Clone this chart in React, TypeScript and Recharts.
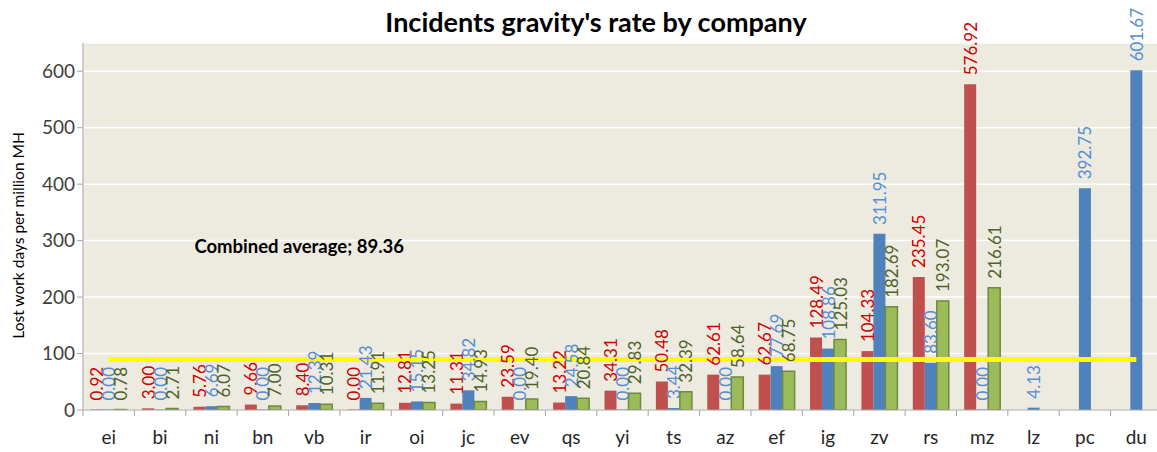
import { BarChart, Bar, XAxis, YAxis, CartesianGrid, LabelList, ReferenceLine, ReferenceDot } from "recharts";

const companies = ["ei", "bi", "ni", "bn", "vb", "ir", "oi", "jc", "ev", "qs", "yi", "ts", "az", "ef", "ig", "zv", "rs", "mz", "lz", "pc", "du"];

const redValues = [0.92, 3.0, 5.76, 9.66, 8.4, 0.0, 12.81, 11.31, 23.59, 13.22, 34.31, 50.48, 62.61, 62.67, 128.49, 104.33, 235.45, 576.92, null, null, null];
const blueValues = [0.0, 0.0, 6.69, 0.0, 12.39, 21.43, 15.15, 34.82, 0.0, 24.58, 0.0, 3.44, 0.0, 77.69, 108.86, 311.95, 83.6, 0.0, 4.13, 392.75, 601.67];
const greenValues = [0.78, 2.71, 6.07, 7.0, 10.31, 11.91, 13.25, 14.93, 19.4, 20.84, 29.83, 32.39, 58.64, 68.75, 125.03, 182.69, 193.07, 216.61, null, null, null];

const yTicks = [0, 100, 200, 300, 400, 500, 600];
const combinedAverage = 89.36;

const data = companies.map((name, i) => ({
  name,
  red: redValues[i],
  blue: blueValues[i],
  green: greenValues[i],
}));

const FONT = "Lato, 'Open Sans', sans-serif";
const CHART_W = 1162;
const PLOT_LEFT = 83;
const BAND = (CHART_W - PLOT_LEFT) / companies.length;

// zero values still need their "0.00" label, so give them a hairline bar
const zeroMin = (value: any) => (value === 0 ? 0.5 : 0);

function makeLabel(color: string) {
  return (props: any) => {
    const { x, y, width, height, value } = props;
    if (value === null || value === undefined) return null;
    const cx = Number(x) + Number(width) / 2;
    const top = Math.min(Number(y), Number(y) + Number(height));
    const ty = top - 9;
    return (
      <text
        x={cx}
        y={ty}
        transform={`rotate(-90 ${cx} ${ty})`}
        fill={color}
        fontSize={17}
        fontFamily={FONT}
        textAnchor="start"
        dominantBaseline="central"
      >
        {Number(value).toFixed(2)}
      </text>
    );
  };
}

function CategoryTick(props: any) {
  const { x, y, payload } = props;
  const left = x - BAND / 2;
  return (
    <g>
      <line x1={left} y1={y - 8} x2={left} y2={y - 2} stroke="#a6a6a6" strokeWidth={1} />
      <text x={x} y={y + 26} textAnchor="middle" fontSize={19} fontFamily={FONT} fill="#262626">
        {payload.value}
      </text>
    </g>
  );
}

function YTitle(props: any) {
  const { viewBox } = props;
  const cy = viewBox.y + viewBox.height / 2 + 9;
  return (
    <text
      x={18}
      y={cy}
      transform={`rotate(-90 18 ${cy})`}
      textAnchor="middle"
      dominantBaseline="central"
      fontSize={15.5}
      fontFamily={FONT}
      fill="#000"
    >
      Lost work days per million MH
    </text>
  );
}

export default function App() {
  return (
    <div
      style={{
        position: "fixed",
        left: 0,
        top: 0,
        width: 1157,
        height: 452,
        overflow: "hidden",
        background: "#fff",
      }}
    >
      <div
        style={{
          position: "absolute",
          left: 0,
          top: 8,
          width: 1192,
          textAlign: "center",
          fontFamily: FONT,
          fontWeight: 700,
          fontSize: 27,
          lineHeight: "27px",
          color: "#000",
        }}
      >
        Incidents gravity's rate by company
      </div>
      <BarChart
        width={CHART_W}
        height={452}
        data={data}
        margin={{ top: 43, right: 0, bottom: 0, left: 0 }}
        barCategoryGap="15%"
        barGap={0}
        style={{ position: "absolute", left: 0, top: 0 }}
      >
        <CartesianGrid vertical={false} stroke="#ffffff" strokeWidth={1.5} fill="#edeae0" />
        <XAxis
          dataKey="name"
          height={42}
          tick={<CategoryTick />}
          tickLine={false}
          axisLine={{ stroke: "#a6a6a6" }}
          interval={0}
        />
        <YAxis
          width={PLOT_LEFT}
          domain={[0, 650]}
          ticks={yTicks}
          allowDataOverflow
          axisLine={{ stroke: "#a6a6a6" }}
          tickLine={{ stroke: "#a6a6a6" }}
          tickSize={6}
          tick={{ fontSize: 19, fontFamily: FONT, fill: "#404040" }}
          label={<YTitle />}
        />
        <Bar dataKey="red" fill="#c0504d" minPointSize={zeroMin} isAnimationActive={false}>
          <LabelList dataKey="red" content={makeLabel("#d00000")} />
        </Bar>
        <Bar dataKey="blue" fill="#4f81bd" minPointSize={zeroMin} isAnimationActive={false}>
          <LabelList dataKey="blue" content={makeLabel("#558ed5")} />
        </Bar>
        <Bar
          dataKey="green"
          fill="#9bbb59"
          stroke="#71893f"
          strokeWidth={1.5}
          minPointSize={zeroMin}
          isAnimationActive={false}
        >
          <LabelList dataKey="green" content={makeLabel("#4f6228")} />
        </Bar>
        <ReferenceLine
          segment={[
            { x: companies[0], y: combinedAverage },
            { x: companies[companies.length - 1], y: combinedAverage },
          ]}
          stroke="#ffff00"
          strokeWidth={5}
        />
        <ReferenceDot
          x="vb"
          y={288}
          r={0}
          fill="none"
          stroke="none"
          label={(p: any) => (
            <text
              x={p.viewBox.x - 15}
              y={p.viewBox.y + 6}
              textAnchor="middle"
              fontSize={18.5}
              fontWeight={700}
              fontFamily={FONT}
              fill="#000"
            >
              {`Combined average; ${combinedAverage}`}
            </text>
          )}
        />
      </BarChart>
    </div>
  );
}
